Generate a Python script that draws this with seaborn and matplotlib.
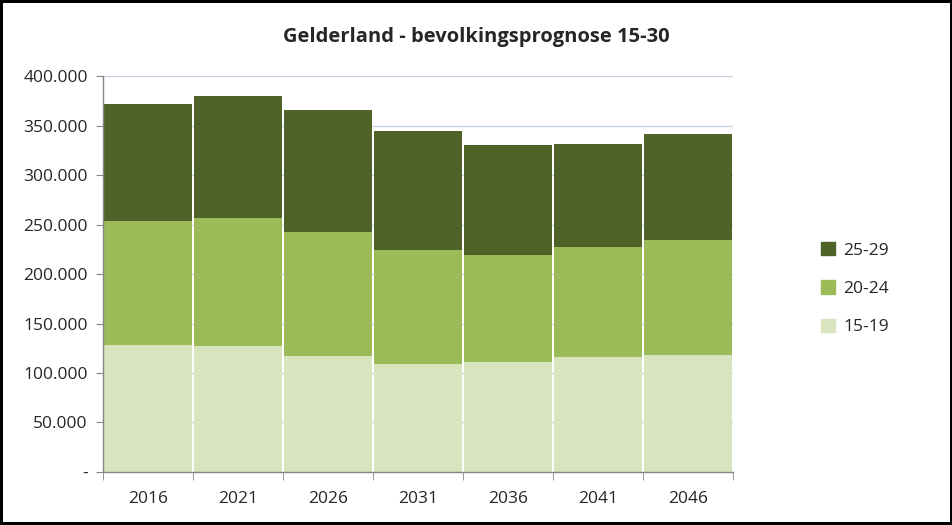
import numpy as np
import pandas as pd
import seaborn as sns
import matplotlib.pyplot as plt
from matplotlib.patches import Patch
from matplotlib.ticker import FuncFormatter, FixedLocator

# data
jaren = ['2016', '2021', '2026', '2031', '2036', '2041', '2046']
leeftijd_15_19 = [128500, 127500, 117400, 109400, 111400, 116400, 118400]
leeftijd_20_24 = [125000, 129000, 125000, 114900, 107800, 110900, 116000]
leeftijd_25_29 = [117900, 123500, 123000, 119900, 110900, 103800, 106800]

kleur_25 = '#4F6228'
kleur_20 = '#9BBB59'
kleur_15 = '#D7E4BD'

sns.set_style('white')
plt.rcParams['font.family'] = ['Open Sans', 'DejaVu Sans']

df = pd.DataFrame({'jaar': jaren,
                   'a': leeftijd_15_19,
                   'b': leeftijd_20_24,
                   'c': leeftijd_25_29})
df['tot_b'] = df['a'] + df['b']
df['tot_c'] = df['tot_b'] + df['c']

fig = plt.figure(figsize=(9.53, 5.25), dpi=100, edgecolor='black', linewidth=3)
ax = fig.add_axes([0.108, 0.101, 0.661, 0.754])

# stacked: draw cumulative totals from top to bottom
for kol, kleur in [('tot_c', kleur_25), ('tot_b', kleur_20), ('a', kleur_15)]:
    sns.barplot(data=df, x='jaar', y=kol, color=kleur, width=0.975, ax=ax,
                edgecolor='none', linewidth=0, saturation=1, zorder=2)

ax.set_ylim(0, 400000)
ax.set_xlim(-0.5, 6.5)
ax.set_yticks(np.arange(0, 400001, 50000))
ax.yaxis.set_major_formatter(FuncFormatter(
    lambda v, p: '-' if v == 0 else f'{int(v):,}'.replace(',', '.')))
ax.grid(axis='y', color='#C9D6E3', linewidth=1, zorder=0)
ax.set_axisbelow(True)

ax.set_xlabel('')
ax.set_ylabel('')
for s in ['top', 'right']:
    ax.spines[s].set_visible(False)
for s in ['left', 'bottom']:
    ax.spines[s].set_color('#868686')
    ax.spines[s].set_linewidth(1)

ax.tick_params(axis='y', which='major', direction='out', length=5, color='#868686',
               labelsize=12.5, pad=6, left=True)
ax.tick_params(axis='x', which='major', length=0, labelsize=12.5, pad=14)
ax.xaxis.set_minor_locator(FixedLocator(np.arange(-0.5, 7, 1)))
ax.tick_params(axis='x', which='minor', direction='out', length=6, color='#868686',
               bottom=True)

fig.text(0.5, 0.93, 'Gelderland - bevolkingsprognose 15-30', ha='center', va='center',
         fontsize=14.5, fontweight='bold')

handles = [Patch(color=kleur_25, label='25-29'),
           Patch(color=kleur_20, label='20-24'),
           Patch(color=kleur_15, label='15-19')]
fig.legend(handles=handles, loc='center left', bbox_to_anchor=(0.845, 0.45),
           frameon=False, fontsize=12.5, handlelength=0.8, handleheight=0.8,
           handletextpad=0.5, labelspacing=1.25)

fig.savefig('out.png', dpi=100)
